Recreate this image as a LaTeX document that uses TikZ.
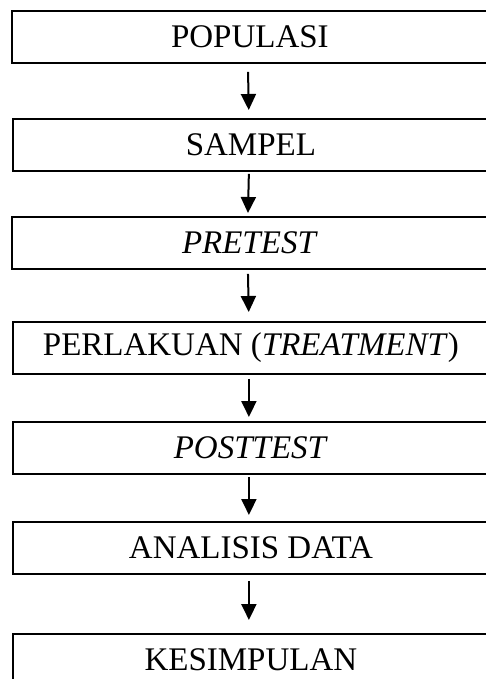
\documentclass[tikz,border=0pt]{standalone}
\usepackage{fontspec}
\setmainfont{Liberation Serif}
\usetikzlibrary{arrows.meta}
\begin{document}
\begin{tikzpicture}[x=1pt,y=-1pt,
  stagebox/.style={draw=black, line width=1.8pt, rectangle, anchor=north west,
    minimum width=476pt, minimum height=52pt, inner sep=0pt,
    font=\fontsize{33}{38}\selectfont},
  flow/.style={line width=2pt, -{Triangle[width=15pt,length=16pt]}}
]
\useasboundingbox (0,0) rectangle (485,679);
\node[stagebox] (b1) at (11,10)  {POPULASI};
\node[stagebox] (b2) at (12,118) {SAMPEL};
\node[stagebox] (b3) at (11,216) {\textit{PRETEST}};
\node[stagebox] (b4) at (12,321) {PERLAKUAN (\textit{TREATMENT})};
\node[stagebox] (b5) at (12,421) {\textit{POSTTEST}};
\node[stagebox] (b6) at (12,521) {ANALISIS DATA};
\node[stagebox] (b7) at (12,633) {KESIMPULAN};
\foreach \a/\b/\s/\e in {b1/b2/8/8, b2/b3/2/3, b3/b4/4/9, b4/b5/4/4, b5/b6/2/6, b6/b7/6/13}
  \draw[flow, shorten <=\s pt, shorten >=\e pt]
    ([xshift=-2pt]\a.south) -- ([xshift=-2pt]\b.north);
\end{tikzpicture}
\end{document}
